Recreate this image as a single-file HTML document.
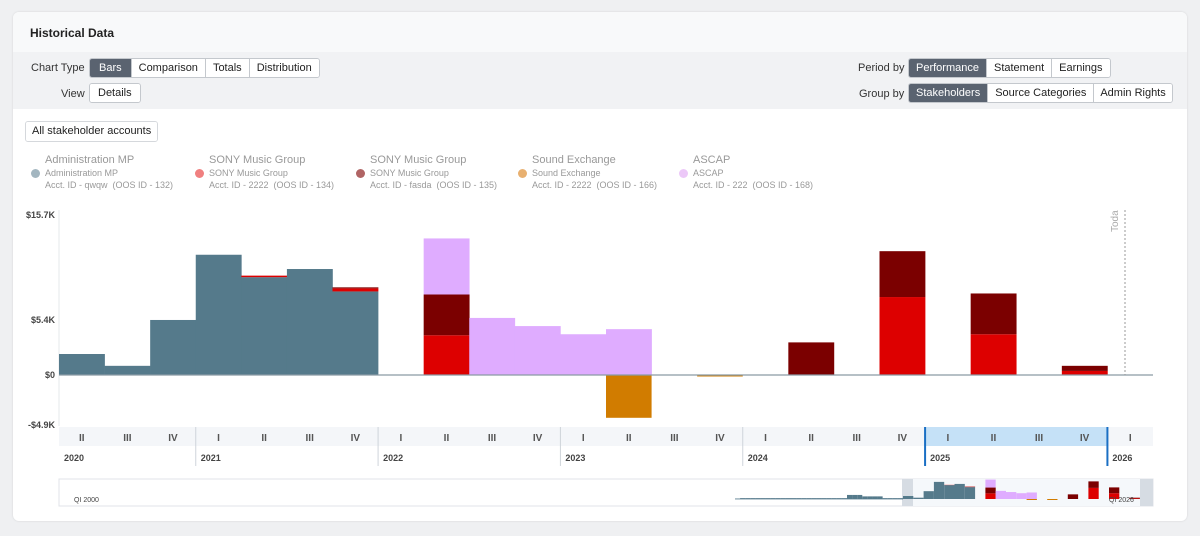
<!DOCTYPE html>
<html><head><meta charset="utf-8"><style>
body{margin:0;width:1200px;height:536px;background:#eff0f2;font-family:"Liberation Sans",sans-serif;position:relative;overflow:hidden}
.card{position:absolute;left:13px;top:12px;width:1174px;height:509px;background:#fff;border-radius:6px;box-shadow:0 0 2px rgba(0,0,0,.12);overflow:hidden}
.hdr{position:absolute;left:0;top:0;width:100%;height:40px;background:#f8f9fa;font-size:12px;font-weight:bold;color:#222}
.hdr span{position:absolute;left:17px;top:14px}
.ctl{position:absolute;left:0;top:40px;width:100%;height:57px;background:#f1f2f4}
.lbl{position:absolute;font-size:11px;color:#333}
.grp{position:absolute;display:flex;border:1px solid #c4c8cd;border-radius:3px;overflow:hidden;height:18px}
.grp div{font-size:11px;color:#222;background:#fff;padding:0 7px;line-height:18px;border-left:1px solid #c4c8cd;white-space:nowrap}
.grp div:first-child{border-left:none}
.grp div.on{background:#5a6370;color:#fff}
.leg{position:absolute;font-size:10px;color:#999;line-height:12.5px}
.leg .t{font-size:11px}
.leg .s{font-size:9px}
.dot{position:absolute;width:9px;height:9px;border-radius:50%;left:-14px;top:15px}
</style></head><body>
<div class="card">
<div class="hdr"><span>Historical Data</span></div>
<div class="ctl">
<div class="lbl" style="left:18px;top:10px">Chart Type</div>
<div class="grp" style="left:76px;top:6px"><div class="on" style="padding:0 9px">Bars</div><div>Comparison</div><div>Totals</div><div>Distribution</div></div>
<div class="lbl" style="left:48px;top:36px">View</div>
<div class="grp" style="left:76px;top:31px"><div style="padding:0 8px">Details</div></div>
<div class="lbl" style="left:845px;top:10px">Period by</div>
<div class="grp" style="left:895px;top:6px"><div class="on">Performance</div><div>Statement</div><div>Earnings</div></div>
<div class="lbl" style="left:846px;top:36px">Group by</div>
<div class="grp" style="left:895px;top:31px"><div class="on">Stakeholders</div><div>Source Categories</div><div style="padding:0 6px">Admin Rights</div></div>
</div>
<div class="grp" style="left:12px;top:109px;height:19px;border-color:#d5d8dc"><div style="line-height:19px;padding:0 6px">All stakeholder accounts</div></div>
<div class="leg" style="left:32px;top:142px"><div class="dot" style="background:#a3b6c0"></div><div class="t">Administration MP</div><div class="s">Administration MP</div><div class="s">Acct. ID - qwqw &nbsp;(OOS ID - 132)</div></div>
<div class="leg" style="left:196px;top:142px"><div class="dot" style="background:#f08080"></div><div class="t">SONY Music Group</div><div class="s">SONY Music Group</div><div class="s">Acct. ID - 2222 &nbsp;(OOS ID - 134)</div></div>
<div class="leg" style="left:357px;top:142px"><div class="dot" style="background:#b06464"></div><div class="t">SONY Music Group</div><div class="s">SONY Music Group</div><div class="s">Acct. ID - fasda &nbsp;(OOS ID - 135)</div></div>
<div class="leg" style="left:519px;top:142px"><div class="dot" style="background:#e8b070"></div><div class="t">Sound Exchange</div><div class="s">Sound Exchange</div><div class="s">Acct. ID - 2222 &nbsp;(OOS ID - 166)</div></div>
<div class="leg" style="left:680px;top:142px"><div class="dot" style="background:#ecc8f8"></div><div class="t">ASCAP</div><div class="s">ASCAP</div><div class="s">Acct. ID - 222 &nbsp;(OOS ID - 168)</div></div>
</div>
<svg id="chart" width="1200" height="536" style="position:absolute;left:0;top:0"></svg>
<script>
const quarters=["II","III","IV","I","II","III","IV","I","II","III","IV","I","II","III","IV","I","II","III","IV","I","II","III","IV","I"];
const years=["2020","2021","2022","2023","2024","2025","2026"];
const yearStart=[0,3,7,11,15,19,23];
const admin=[2.06,0.9,5.4,11.8,9.6,10.4,8.2,0,0,0,0,0,0,0,0,0,0,0,0,0,0,0,0,0];
const sony1=[0,0,0,0,0.15,0,0.3,0,3.9,0,0,0,0,0,0,0,0,0,7.65,0,4.0,0,0.4,0];
const sony2=[0,0,0,0,0,0,0.1,0,4.0,0,0,0,0,0,0,0,3.2,0,4.5,0,4.0,0,0.5,0];
const ascap=[0,0,0,0,0,0,0,0,5.5,5.6,4.8,4.0,4.5,0,0,0,0,0,0,0,0,0,0,0];
const soundEx=[0,0,0,0,0,0,0,0,0,0,0,0,-4.2,0,-0.1,0,0,0,0,0,0,0,0,0];
const yTicks=[15.7,5.4,0,-4.9];
const yTickLabels=["$15.7K","$5.4K","$0","-$4.9K"];
const earlyAdmin=[0.3,0.6,0.6,0.6,0.6,0.6,0.6,0.6,0.6,0.6,0.6,0.6,0.6,0.6,0.6,0.6,0.6,0.6,0.6,0.6,0.6,0.6,2.8,2.8,2.8,1.8,1.8,1.8,1.8,0.6,0.6,0.6,0.6];
const svg=document.getElementById('chart');const NS="http://www.w3.org/2000/svg";
function mk(t,a,txt){const e=document.createElementNS(NS,t);for(const k in a)e.setAttribute(k,a[k]);if(txt!==undefined)e.textContent=txt;svg.appendChild(e);return e;}
const X0=59,X1=1153,QW=(X1-X0)/quarters.length;
const y=v=>375-v*(160/15.7);
const x=i=>X0+i*QW;
mk('line',{x1:X0,y1:210,x2:X0,y2:426,stroke:'#e6e8eb'});
yTicks.forEach((t,i)=>{const e=mk('text',{x:55,y:y(t)+3,'text-anchor':'end','font-size':9,fill:'#444','font-weight':'bold'},yTickLabels[i]);});
const series=[[admin,'#557a8b','admin'],[sony1,'#dd0000','sony1'],[sony2,'#7b0000','sony2'],[ascap,'#dfacff','ascap']];
quarters.forEach((q,i)=>{let base=0;series.forEach(([arr,c,n])=>{const v=arr[i];if(v>0){const r=mk('rect',{x:x(i),y:y(base+v),width:QW+0.3,height:y(base)-y(base+v),fill:c});base+=v;}});
 if(soundEx[i]<0){const r=mk('rect',{x:x(i),y:y(0),width:QW,height:Math.max(1.5,y(soundEx[i])-y(0)),fill:'#d17c00'});}});
mk('line',{x1:X0,y1:375,x2:X1,y2:375,stroke:'#8a9aa5','stroke-width':1.2});
mk('line',{x1:1125,y1:210,x2:1125,y2:375,stroke:'#999','stroke-dasharray':'2,2'});
const td=mk('text',{x:1118,y:232,transform:'rotate(-90 1118 232)','font-size':10,fill:'#aaa'},'Toda');
mk('rect',{x:X0,y:427,width:X1-X0,height:19,fill:'#f4f6f9'});
mk('rect',{x:x(19),y:427,width:4*QW,height:19,fill:'#c5e1f7'});
quarters.forEach((q,i)=>{const e=mk('text',{x:x(i)+QW/2,y:441,'text-anchor':'middle','font-size':10,fill:'#555','font-weight':'bold'},q);});
years.forEach((yr,i)=>{const xs=x(yearStart[i]);if(i>0)mk('line',{x1:xs,y1:427,x2:xs,y2:466,stroke:'#cfd4da'});const e=mk('text',{x:Math.max(xs,X0)+5,y:461,'font-size':9,fill:'#444','font-weight':'bold'},yr);});
mk('line',{x1:x(19),y1:427,x2:x(19),y2:466,stroke:'#1a6fc4','stroke-width':2});
mk('line',{x1:x(23),y1:427,x2:x(23),y2:466,stroke:'#1a6fc4','stroke-width':2});
// navigator
const nav=mk('rect',{x:X0,y:479,width:X1-X0,height:27,fill:'#fff',stroke:'#e0e3e8'});
mk('rect',{x:902,y:479,width:11,height:27,fill:'#d6dce3'});mk('rect',{x:1140,y:479,width:13,height:27,fill:'#d6dce3'});
mk('rect',{x:913,y:479,width:227,height:27,fill:'#f5f8fb'});
const my=v=>499-v*1.45;const MS=903,EQ=(MS-735)/earlyAdmin.length,MQ=10.3;
earlyAdmin.forEach((v,i)=>mk('rect',{x:735+i*EQ,y:my(v),width:EQ,height:499-my(v),fill:'#557a8b'}));
quarters.forEach((q,i)=>{let b=0;series.forEach(([arr,c])=>{const v=arr[i];if(v>0){mk('rect',{x:MS+i*MQ,y:my(b+v),width:MQ,height:my(b)-my(b+v),fill:c});b+=v;}});if(soundEx[i]<0)mk('rect',{x:MS+i*MQ,y:499,width:MQ,height:Math.max(1,my(0)-my(soundEx[i])),fill:'#d17c00'});});
mk('line',{x1:735,y1:499,x2:903,y2:499,stroke:'#557a8b','stroke-width':0.8});
mk('text',{x:74,y:502,'font-size':7,fill:'#444'},'QI 2000');
mk('text',{x:1109,y:502,'font-size':7,fill:'#444'},'QI 2026');
</script>
</body></html>
